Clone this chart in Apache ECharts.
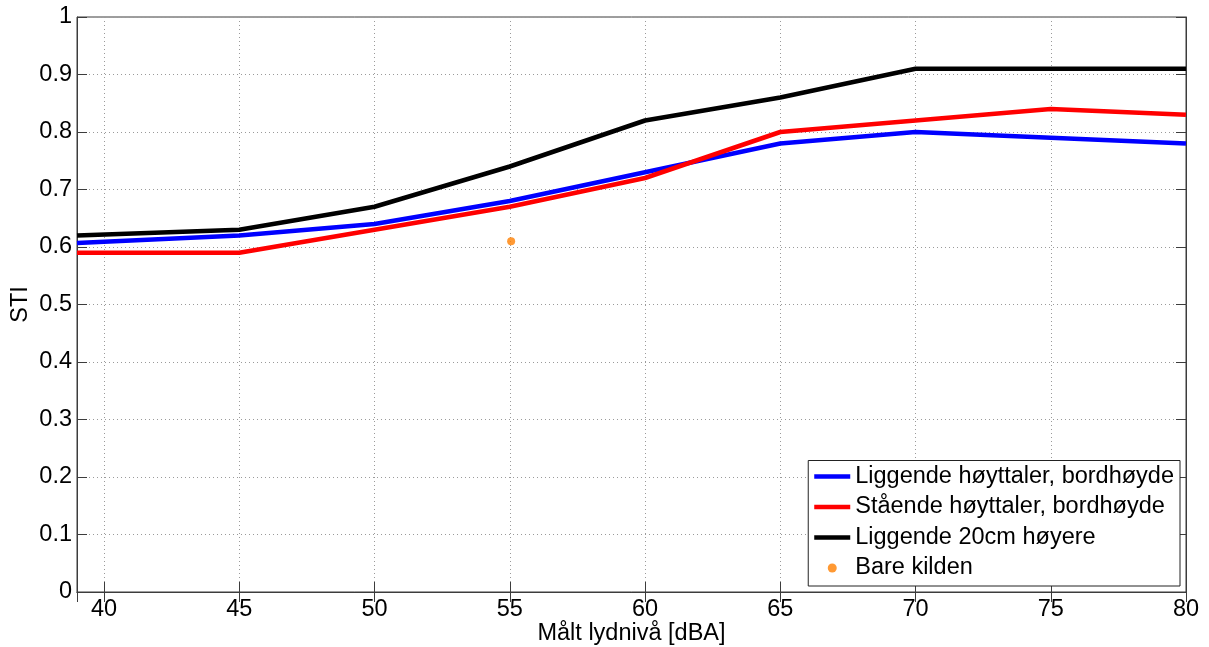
<!DOCTYPE html>
<html>
<head>
<meta charset="utf-8">
<script src="https://cdn.jsdelivr.net/npm/echarts@6/dist/echarts.min.js"></script>
<style>html,body{margin:0;padding:0;background:#fff;}#c{width:1209px;height:647px;}</style>
</head>
<body>
<div id="c"></div>
<script>
const xValues = [39, 45, 50, 55, 60, 65, 70, 75, 80];
const liggende = [0.607, 0.62, 0.64, 0.68, 0.73, 0.78, 0.80, 0.79, 0.78];
const staaende = [0.59, 0.59, 0.63, 0.67, 0.72, 0.80, 0.82, 0.84, 0.83];
const hoyere = [0.62, 0.63, 0.67, 0.74, 0.82, 0.86, 0.91, 0.91, 0.91];
const bareKilden = [[55.05, 0.61]];
const seriesNames = ['Liggende høyttaler, bordhøyde', 'Stående høyttaler, bordhøyde', 'Liggende 20cm høyere', 'Bare kilden'];
const xName = 'Målt lydnivå [dBA]';
const yName = 'STI';

const font = 'Liberation Sans, Arial, sans-serif';
const fs = 23.5;
const pair = arr => xValues.map((x, i) => [x, arr[i]]);
const axisLineStyle = { color: '#3c3c3c', width: 1 };
const splitLine = { show: true, lineStyle: { color: '#9a9a9a', type: [1, 3], width: 1 } };
const lineIcon = 'path://M0,0 L36,0 L36,4.5 L0,4.5 Z';

const chart = echarts.init(document.getElementById('c'));
chart.setOption({
  animation: false,
  backgroundColor: '#fff',
  grid: { left: 77, right: 23, top: 17, bottom: 55, show: true, borderColor: '#3c3c3c', borderWidth: 1,
    containLabel: false, outerBoundsMode: 'none' },
  xAxis: [
    { type: 'value', min: 39, max: 80, splitNumber: 8, position: 'bottom',
      name: xName, nameLocation: 'middle', nameGap: 30, nameMoveOverlap: false,
      nameTextStyle: { fontFamily: font, fontSize: fs, color: '#000' },
      axisLine: { show: true, lineStyle: axisLineStyle },
      axisTick: { show: true, inside: true, length: 10, lineStyle: axisLineStyle },
      axisLabel: { showMinLabel: false, fontFamily: font, fontSize: fs, color: '#000', margin: 6 },
      splitLine: splitLine },
    { type: 'value', min: 39, max: 80, splitNumber: 8, position: 'top',
      axisLine: { show: true, lineStyle: axisLineStyle },
      axisTick: { show: true, inside: true, length: 10, lineStyle: axisLineStyle },
      axisLabel: { show: false }, splitLine: { show: false } }
  ],
  yAxis: [
    { type: 'value', min: 0, max: 1, interval: 0.1, position: 'left',
      name: yName, nameLocation: 'middle', nameGap: 44, nameRotate: 90, nameMoveOverlap: false,
      nameTextStyle: { fontFamily: font, fontSize: fs, color: '#000' },
      axisLine: { show: true, lineStyle: axisLineStyle },
      axisTick: { show: true, inside: true, length: 10, lineStyle: axisLineStyle },
      axisLabel: { fontFamily: font, fontSize: fs, color: '#000', margin: 5,
        formatter: v => (Math.round(v * 10) / 10).toString() },
      splitLine: splitLine },
    { type: 'value', min: 0, max: 1, interval: 0.1, position: 'right',
      axisLine: { show: true, lineStyle: axisLineStyle },
      axisTick: { show: true, inside: true, length: 10, lineStyle: axisLineStyle },
      axisLabel: { show: false }, splitLine: { show: false } }
  ],
  legend: {
    orient: 'vertical', right: 29, bottom: 61,
    backgroundColor: '#fff', borderColor: '#222', borderWidth: 1,
    padding: [4, 6, 6, 6], itemWidth: 36, itemHeight: 9, itemGap: 6.5,
    textStyle: { fontFamily: font, fontSize: fs, color: '#000', lineHeight: 24 },
    data: [
      { name: seriesNames[0], icon: lineIcon },
      { name: seriesNames[1], icon: lineIcon },
      { name: seriesNames[2], icon: lineIcon },
      { name: seriesNames[3], icon: 'circle' }
    ]
  },
  series: [
    { name: seriesNames[0], type: 'line', data: pair(liggende), symbol: 'none',
      lineStyle: { color: '#0000ff', width: 4.5 }, itemStyle: { color: '#0000ff' }, z: 3 },
    { name: seriesNames[1], type: 'line', data: pair(staaende), symbol: 'none',
      lineStyle: { color: '#ff0000', width: 4.5 }, itemStyle: { color: '#ff0000' }, z: 4 },
    { name: seriesNames[2], type: 'line', data: pair(hoyere), symbol: 'none',
      lineStyle: { color: '#000000', width: 4.5 }, itemStyle: { color: '#000000' }, z: 2 },
    { name: seriesNames[3], type: 'scatter', data: bareKilden, symbol: 'circle', symbolSize: 8,
      itemStyle: { color: '#ff8000' }, z: 5 }
  ]
});
</script>
</body>
</html>
